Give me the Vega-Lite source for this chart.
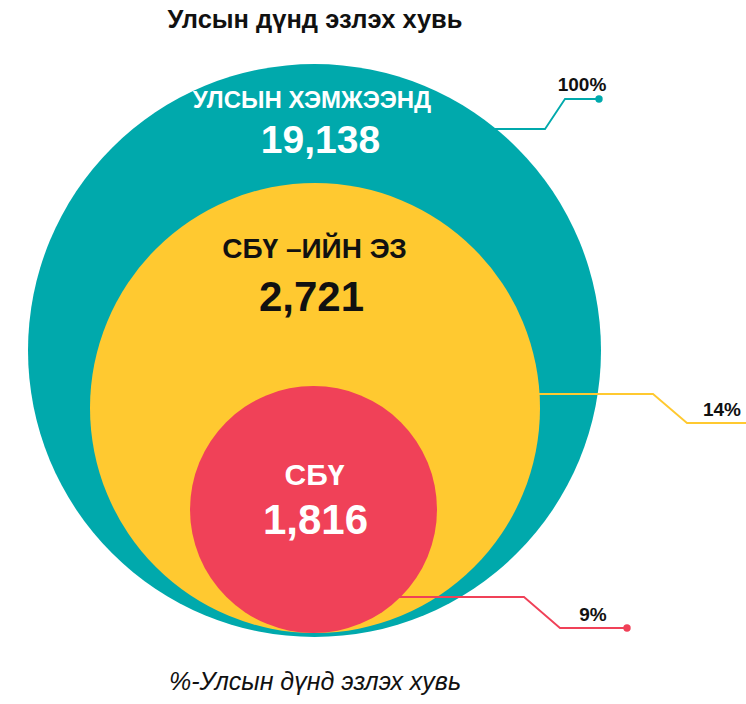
{
  "$schema": "https://vega.github.io/schema/vega-lite/v6.json",
  "width": 746,
  "height": 704,
  "padding": 0,
  "autosize": {"type": "none"},
  "background": "#ffffff",
  "config": {"view": {"stroke": null}, "text": {"font": "Liberation Sans"}},
  "datasets": {
    "levels": [
      {"level": "УЛСЫН ХЭМЖЭЭНД", "value": 19138, "share": 1},
      {"level": "СБҮ –ИЙН ЭЗ", "value": 2721, "share": 0.1422},
      {"level": "СБҮ", "value": 1816, "share": 0.0949}
    ],
    "leaders": [
      {"level": "УЛСЫН ХЭМЖЭЭНД", "pt": 1},
      {"level": "УЛСЫН ХЭМЖЭЭНД", "pt": 2},
      {"level": "УЛСЫН ХЭМЖЭЭНД", "pt": 3},
      {"level": "УЛСЫН ХЭМЖЭЭНД", "pt": 4},
      {"level": "СБҮ –ИЙН ЭЗ", "pt": 5},
      {"level": "СБҮ –ИЙН ЭЗ", "pt": 6},
      {"level": "СБҮ –ИЙН ЭЗ", "pt": 7},
      {"level": "СБҮ –ИЙН ЭЗ", "pt": 8},
      {"level": "СБҮ", "pt": 9},
      {"level": "СБҮ", "pt": 10},
      {"level": "СБҮ", "pt": 11},
      {"level": "СБҮ", "pt": 12}
    ],
    "captions": [
      {"kind": "title", "text": "Улсын дүнд эзлэх хувь"},
      {"kind": "note", "text": "%-Улсын дүнд эзлэх хувь"}
    ]
  },
  "resolve": {"scale": {"x": "independent", "y": "independent", "color": "independent", "size": "independent"}},
  "layer": [
    {
      "data": {"name": "levels"},
      "mark": {"type": "point", "shape": "circle", "filled": true, "opacity": 1, "strokeWidth": 0},
      "encoding": {
        "x": {"field": "value", "type": "quantitative", "axis": null, "scale": {"domain": [1816, 2721, 19138], "range": [313.5, 315, 314.5], "nice": false, "zero": false}},
        "y": {"field": "value", "type": "quantitative", "axis": null, "scale": {"domain": [1816, 2721, 19138], "range": [509.5, 408, 350.5], "nice": false, "zero": false}},
        "size": {"field": "value", "type": "quantitative", "legend": null, "scale": {"domain": [1816, 2721, 19138], "range": [61009, 202500, 328329], "zero": false}},
        "color": {"field": "level", "type": "nominal", "legend": null, "scale": {"domain": ["УЛСЫН ХЭМЖЭЭНД", "СБҮ –ИЙН ЭЗ", "СБҮ"], "range": ["#00A9AC", "#FFC930", "#F04158"]}},
        "order": {"field": "value", "sort": "descending"}
      }
    },
    {
      "data": {"name": "leaders"},
      "mark": {"type": "line", "strokeWidth": 1.8},
      "encoding": {
        "x": {"field": "pt", "type": "quantitative", "axis": null, "scale": {"domain": [1, 2, 3, 4, 5, 6, 7, 8, 9, 10, 11, 12], "range": [470, 545, 565, 599, 520, 653, 687, 746, 380, 524, 560, 627], "nice": false, "zero": false}},
        "y": {"field": "pt", "type": "quantitative", "axis": null, "scale": {"domain": [1, 2, 3, 4, 5, 6, 7, 8, 9, 10, 11, 12], "range": [129, 129, 99, 99, 394, 394, 423, 423, 597, 597, 628, 628], "nice": false, "zero": false}},
        "color": {"field": "level", "type": "nominal", "legend": null, "scale": {"domain": ["УЛСЫН ХЭМЖЭЭНД", "СБҮ –ИЙН ЭЗ", "СБҮ"], "range": ["#00A9AC", "#FFC930", "#F04158"]}},
        "order": {"field": "pt"}
      }
    },
    {
      "data": {"name": "leaders"},
      "transform": [{"filter": {"field": "pt", "oneOf": [4, 12]}}],
      "mark": {"type": "point", "shape": "circle", "filled": true, "opacity": 1, "size": 55, "strokeWidth": 0},
      "encoding": {
        "x": {"field": "pt", "type": "quantitative", "axis": null, "scale": {"domain": [1, 2, 3, 4, 5, 6, 7, 8, 9, 10, 11, 12], "range": [470, 545, 565, 599, 520, 653, 687, 746, 380, 524, 560, 627], "nice": false, "zero": false}},
        "y": {"field": "pt", "type": "quantitative", "axis": null, "scale": {"domain": [1, 2, 3, 4, 5, 6, 7, 8, 9, 10, 11, 12], "range": [129, 129, 99, 99, 394, 394, 423, 423, 597, 597, 628, 628], "nice": false, "zero": false}},
        "color": {"field": "level", "type": "nominal", "legend": null, "scale": {"domain": ["УЛСЫН ХЭМЖЭЭНД", "СБҮ –ИЙН ЭЗ", "СБҮ"], "range": ["#00A9AC", "#FFC930", "#F04158"]}}
      }
    },
    {
      "data": {"name": "levels"},
      "mark": {"type": "text", "fontWeight": "bold", "align": "center", "baseline": "middle"},
      "encoding": {
        "text": {"field": "level", "type": "nominal"},
        "x": {"field": "value", "type": "quantitative", "axis": null, "scale": {"domain": [1816, 2721, 19138], "range": [314.5, 314.5, 312], "nice": false, "zero": false}},
        "y": {"field": "value", "type": "quantitative", "axis": null, "scale": {"domain": [1816, 2721, 19138], "range": [476, 250, 101], "nice": false, "zero": false}},
        "size": {"field": "value", "type": "quantitative", "legend": null, "scale": {"domain": [1816, 2721, 19138], "range": [30, 28, 24], "zero": false}},
        "color": {"field": "level", "type": "nominal", "legend": null, "scale": {"domain": ["УЛСЫН ХЭМЖЭЭНД", "СБҮ –ИЙН ЭЗ", "СБҮ"], "range": ["#ffffff", "#111111", "#ffffff"]}}
      }
    },
    {
      "data": {"name": "levels"},
      "mark": {"type": "text", "fontWeight": "bold", "align": "center", "baseline": "middle"},
      "encoding": {
        "text": {"field": "value", "type": "quantitative", "format": ","},
        "x": {"field": "value", "type": "quantitative", "axis": null, "scale": {"domain": [1816, 2721, 19138], "range": [315.5, 311.5, 320.5], "nice": false, "zero": false}},
        "y": {"field": "value", "type": "quantitative", "axis": null, "scale": {"domain": [1816, 2721, 19138], "range": [521, 298, 141], "nice": false, "zero": false}},
        "size": {"field": "value", "type": "quantitative", "legend": null, "scale": {"domain": [1816, 2721, 19138], "range": [42, 42, 39], "zero": false}},
        "color": {"field": "level", "type": "nominal", "legend": null, "scale": {"domain": ["УЛСЫН ХЭМЖЭЭНД", "СБҮ –ИЙН ЭЗ", "СБҮ"], "range": ["#ffffff", "#111111", "#ffffff"]}}
      }
    },
    {
      "data": {"name": "levels"},
      "mark": {"type": "text", "fontWeight": "bold", "align": "center", "baseline": "middle", "fontSize": 19, "color": "#111111"},
      "encoding": {
        "text": {"field": "share", "type": "quantitative", "format": ".0%"},
        "x": {"field": "share", "type": "quantitative", "axis": null, "scale": {"domain": [0.0949, 0.1422, 1], "range": [593, 722, 582], "nice": false, "zero": false}},
        "y": {"field": "share", "type": "quantitative", "axis": null, "scale": {"domain": [0.0949, 0.1422, 1], "range": [615, 410, 85], "nice": false, "zero": false}}
      }
    },
    {
      "data": {"name": "captions"},
      "transform": [{"filter": "datum.kind === 'title'"}],
      "mark": {"type": "text", "fontWeight": "bold", "align": "center", "baseline": "middle", "fontSize": 25.5, "color": "#111111"},
      "encoding": {
        "text": {"field": "text", "type": "nominal"},
        "x": {"field": "kind", "type": "nominal", "axis": null, "scale": {"domain": ["title", "note"], "range": [315, 315], "padding": 0}},
        "y": {"field": "kind", "type": "nominal", "axis": null, "scale": {"domain": ["title", "note"], "range": [20, 682], "padding": 0}}
      }
    },
    {
      "data": {"name": "captions"},
      "transform": [{"filter": "datum.kind === 'note'"}],
      "mark": {"type": "text", "fontStyle": "italic", "align": "center", "baseline": "middle", "fontSize": 25, "color": "#111111"},
      "encoding": {
        "text": {"field": "text", "type": "nominal"},
        "x": {"field": "kind", "type": "nominal", "axis": null, "scale": {"domain": ["title", "note"], "range": [315, 315], "padding": 0}},
        "y": {"field": "kind", "type": "nominal", "axis": null, "scale": {"domain": ["title", "note"], "range": [20, 682], "padding": 0}}
      }
    }
  ]
}
